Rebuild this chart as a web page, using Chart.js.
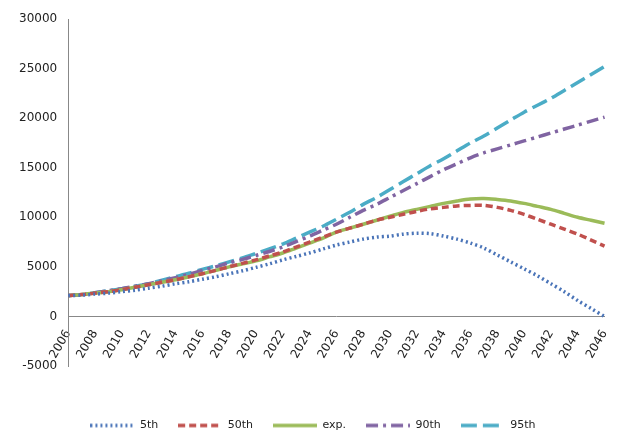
<!DOCTYPE html>
<html><head><script src="https://cdn.jsdelivr.net/npm/chart.js@4"></script>
<style>body{margin:0;background:#fff}#w{width:620px;height:437px}</style></head>
<body><div id="w"><canvas id="c"></canvas></div>
<script>
const years=[];for(let y=2006;y<=2046;y++)years.push(String(y));
const p5=[2100,2150,2250,2350,2500,2650,2850,3050,3300,3500,3750,4000,4300,4600,4950,5300,5700,6050,6400,6800,7200,7500,7800,8000,8100,8300,8400,8350,8100,7800,7400,6900,6200,5500,4800,4100,3300,2500,1600,800,0];
const p50=[2100,2200,2350,2500,2700,2950,3200,3450,3700,4000,4300,4650,5000,5350,5700,6100,6500,7000,7500,8000,8500,8900,9300,9700,10000,10300,10600,10850,11000,11150,11200,11200,11000,10700,10300,9800,9300,8800,8300,7700,7100];
const pexp=[2100,2200,2350,2500,2700,2950,3200,3450,3700,4000,4300,4650,5000,5300,5600,6000,6400,6900,7400,7900,8500,8900,9300,9700,10100,10500,10800,11100,11400,11650,11850,11900,11800,11650,11400,11100,10800,10400,10000,9700,9400];
const p90=[2100,2200,2400,2600,2800,3050,3300,3600,3900,4250,4650,5000,5400,5750,6150,6550,7000,7550,8100,8700,9300,10000,10700,11300,12000,12700,13400,14100,14800,15400,16000,16500,16900,17300,17700,18100,18500,18900,19300,19700,20100];
const p95=[2100,2200,2400,2600,2800,3050,3300,3650,4000,4350,4750,5100,5500,5900,6350,6800,7300,7900,8500,9100,9800,10500,11300,12000,12800,13600,14400,15200,15900,16700,17500,18200,19000,19800,20600,21300,22000,22800,23600,24400,25200];
const mk=(l,d,c,dash)=>({label:l,data:d,borderColor:c,backgroundColor:'rgba(0,0,0,0)',borderWidth:3.5,borderDash:dash,pointRadius:0,tension:0.3});
function lineImg(c,dash){const cv=document.createElement('canvas');cv.width=44;cv.height=6;const x=cv.getContext('2d');x.strokeStyle=c;x.lineWidth=3.5;x.setLineDash(dash);x.beginPath();x.moveTo(0,3);x.lineTo(44,3);x.stroke();return cv;}
const SH=34;
const legPad={id:'legPad',
 beforeInit(chart){const f=chart.legend.fit;chart.legend.fit=function(){f.call(this);this.height+=30;};},
 afterLayout(chart){const lg=chart.legend;lg.top+=SH;lg.bottom+=SH;(lg.legendHitBoxes||[]).forEach(h=>h.top+=SH);}};
new Chart(document.getElementById('c'),{type:'line',plugins:[legPad],
data:{labels:years,datasets:[mk('5th',p5,'#4a74b8',[2,3]),mk('50th',p50,'#c0504d',[7,4]),mk('exp.',pexp,'#9bbb59',[]),mk('90th',p90,'#8064a2',[12,5,3,5]),mk('95th',p95,'#4bacc6',[16,6])]},
options:{responsive:true,maintainAspectRatio:false,animation:false,
layout:{padding:{top:19,right:10,left:16,bottom:0}},
plugins:{legend:{position:'bottom',labels:{usePointStyle:true,pointStyleWidth:44,color:'#222',font:{family:'DejaVu Sans',size:11},padding:20,
 generateLabels(chart){return chart.data.datasets.map((d,i)=>({text:d.label,datasetIndex:i,pointStyle:lineImg(d.borderColor,d.borderDash),fontColor:'#222',hidden:false,lineWidth:0,strokeStyle:d.borderColor,fillStyle:d.borderColor}));}}},tooltip:{enabled:false}},
scales:{x:{position:{y:0},grid:{display:false},border:{color:'#888'},ticks:{autoSkip:false,maxRotation:60,minRotation:60,color:'#222',font:{family:'DejaVu Sans',size:12},callback:function(v,i){return i%2==0?this.getLabelForValue(v):'';}}},
y:{min:-5000,max:30000,ticks:{stepSize:5000,color:'#222',font:{family:'DejaVu Sans',size:12},callback:v=>String(v)},grid:{display:false},border:{color:'#888'}}}}});
</script></body></html>
